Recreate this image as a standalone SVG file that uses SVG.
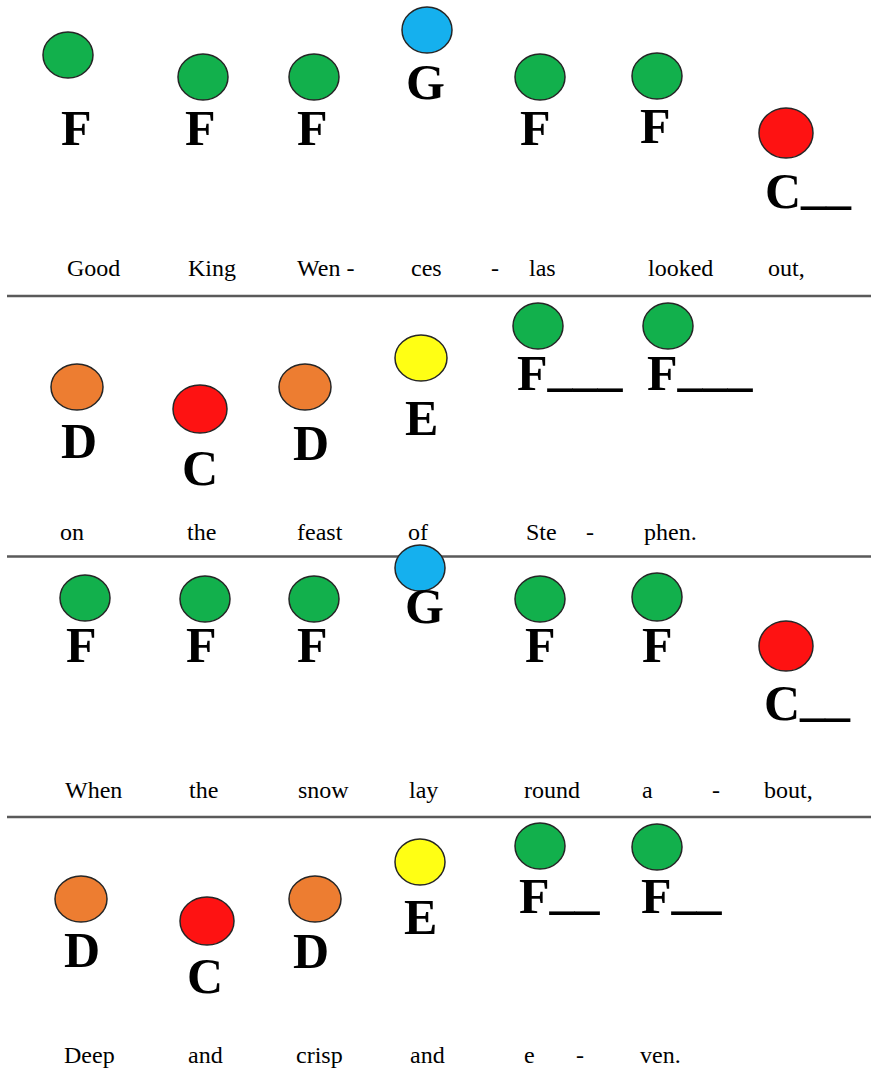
<svg xmlns="http://www.w3.org/2000/svg" width="871" height="1071" viewBox="0 0 871 1071">
<style>
.n{stroke:#262626;stroke-width:1.5}
.g{fill:#12b04c}.b{fill:#15b0ee}.r{fill:#fe1212}.o{fill:#ed7d31}.y{fill:#ffff14}
.L{font-family:"Liberation Serif","Times New Roman",serif;font-weight:bold;font-size:50px;fill:#000}
.w{font-family:"Liberation Serif","Times New Roman",serif;font-size:24px;fill:#000}
.sep{stroke:#5a5a5a;stroke-width:2.5}
</style>
<rect width="871" height="1071" fill="#fff"/>
<g id="separators">
<line class="sep" x1="7" y1="296" x2="871" y2="296"/>
<line class="sep" x1="7" y1="556.5" x2="871" y2="556.5"/>
<line class="sep" x1="7" y1="817" x2="871" y2="817"/>
</g>
<!-- Row 1 -->
<g id="r1n1"><ellipse class="n g" cx="68" cy="55" rx="25" ry="23"/><text class="L" x="61" y="145">F</text></g>
<g id="r1n2"><ellipse class="n g" cx="203" cy="77" rx="25" ry="23"/><text class="L" x="185" y="145">F</text></g>
<g id="r1n3"><ellipse class="n g" cx="314" cy="77" rx="25" ry="23"/><text class="L" x="297" y="145">F</text></g>
<g id="r1n4"><ellipse class="n b" cx="427" cy="30" rx="25" ry="23"/><text class="L" x="406" y="99">G</text></g>
<g id="r1n5"><ellipse class="n g" cx="540" cy="77" rx="25" ry="23"/><text class="L" x="520" y="145">F</text></g>
<g id="r1n6"><ellipse class="n g" cx="657" cy="76" rx="25" ry="23"/><text class="L" x="640" y="143">F</text></g>
<g id="r1n7"><ellipse class="n r" cx="786" cy="133" rx="27" ry="25"/><text class="L" x="765" y="208">C<tspan dy="-5">__</tspan></text></g>
<g id="r1lyrics">
<text class="w" x="67" y="276">Good</text>
<text class="w" x="188" y="276">King</text>
<text class="w" x="297" y="276">Wen -</text>
<text class="w" x="411" y="276">ces</text>
<text class="w" x="491" y="276">-</text>
<text class="w" x="529" y="276">las</text>
<text class="w" x="648" y="276">looked</text>
<text class="w" x="768" y="276">out,</text>
</g>
<!-- Row 2 -->
<g id="r2n1"><ellipse class="n o" cx="77" cy="387" rx="26" ry="23"/><text class="L" x="61" y="458">D</text></g>
<g id="r2n2"><ellipse class="n r" cx="200" cy="409" rx="27" ry="24"/><text class="L" x="182" y="485">C</text></g>
<g id="r2n3"><ellipse class="n o" cx="305" cy="387" rx="26" ry="23"/><text class="L" x="293" y="460">D</text></g>
<g id="r2n4"><ellipse class="n y" cx="421" cy="358" rx="26" ry="23"/><text class="L" x="405" y="435">E</text></g>
<g id="r2n5"><ellipse class="n g" cx="538" cy="326" rx="25" ry="23"/><text class="L" x="517" y="390">F<tspan dy="-5">___</tspan></text></g>
<g id="r2n6"><ellipse class="n g" cx="668" cy="326" rx="25" ry="23"/><text class="L" x="647" y="390">F<tspan dy="-5">___</tspan></text></g>
<g id="r2lyrics">
<text class="w" x="60" y="540">on</text>
<text class="w" x="187" y="540">the</text>
<text class="w" x="297" y="540">feast</text>
<text class="w" x="408" y="540">of</text>
<text class="w" x="526" y="540">Ste</text>
<text class="w" x="586" y="540">-</text>
<text class="w" x="644" y="540">phen.</text>
</g>
<!-- Row 3 -->
<g id="r3n1"><ellipse class="n g" cx="85" cy="598" rx="25" ry="23"/><text class="L" x="66" y="662">F</text></g>
<g id="r3n2"><ellipse class="n g" cx="205" cy="599" rx="25" ry="23"/><text class="L" x="186" y="662">F</text></g>
<g id="r3n3"><ellipse class="n g" cx="314" cy="599" rx="25" ry="23"/><text class="L" x="297" y="662">F</text></g>
<g id="r3n4"><ellipse class="n b" cx="420" cy="568" rx="25" ry="23"/><text class="L" x="405" y="623">G</text></g>
<g id="r3n5"><ellipse class="n g" cx="540" cy="599" rx="25" ry="23"/><text class="L" x="525" y="662">F</text></g>
<g id="r3n6"><ellipse class="n g" cx="657" cy="597" rx="25" ry="24"/><text class="L" x="642" y="662">F</text></g>
<g id="r3n7"><ellipse class="n r" cx="786" cy="646" rx="27" ry="25"/><text class="L" x="764" y="720">C<tspan dy="-5">__</tspan></text></g>
<g id="r3lyrics">
<text class="w" x="65" y="798">When</text>
<text class="w" x="189" y="798">the</text>
<text class="w" x="298" y="798">snow</text>
<text class="w" x="409" y="798">lay</text>
<text class="w" x="524" y="798">round</text>
<text class="w" x="642" y="798">a</text>
<text class="w" x="712" y="798">-</text>
<text class="w" x="764" y="798">bout,</text>
</g>
<!-- Row 4 -->
<g id="r4n1"><ellipse class="n o" cx="81" cy="899" rx="26" ry="23"/><text class="L" x="64" y="967">D</text></g>
<g id="r4n2"><ellipse class="n r" cx="207" cy="921" rx="27" ry="24"/><text class="L" x="187" y="993">C</text></g>
<g id="r4n3"><ellipse class="n o" cx="315" cy="899" rx="26" ry="23"/><text class="L" x="293" y="968">D</text></g>
<g id="r4n4"><ellipse class="n y" cx="420" cy="862" rx="25" ry="23"/><text class="L" x="404" y="934">E</text></g>
<g id="r4n5"><ellipse class="n g" cx="540" cy="846" rx="25" ry="23"/><text class="L" x="519" y="913">F<tspan dy="-5">__</tspan></text></g>
<g id="r4n6"><ellipse class="n g" cx="657" cy="847" rx="25" ry="23"/><text class="L" x="641" y="913">F<tspan dy="-5">__</tspan></text></g>
<g id="r4lyrics">
<text class="w" x="64" y="1063">Deep</text>
<text class="w" x="188" y="1063">and</text>
<text class="w" x="296" y="1063">crisp</text>
<text class="w" x="410" y="1063">and</text>
<text class="w" x="524" y="1063">e</text>
<text class="w" x="576" y="1063">-</text>
<text class="w" x="640" y="1063">ven.</text>
</g>
</svg>
